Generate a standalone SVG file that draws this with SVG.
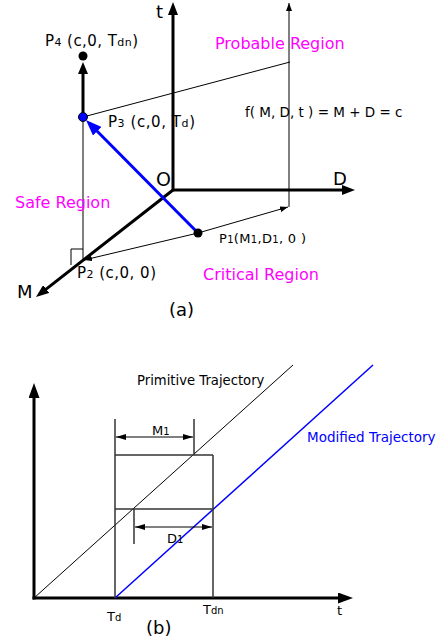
<svg xmlns="http://www.w3.org/2000/svg" width="442" height="644" viewBox="0 0 442 644">
<defs>
<style>
text{font-family:"DejaVu Sans","Liberation Sans",sans-serif;fill:#000}
.mag{fill:#FF00FF;font-size:16px}
.lbl{font-size:15px}
.sub{font-size:11px}
.ax{font-size:18px}
.thin{stroke:#000;stroke-width:1;fill:none}
.thick{stroke:#000;stroke-width:3;fill:none}
.dim{stroke:#333;stroke-width:1.5;fill:none}
</style>
<marker id="ah" markerUnits="userSpaceOnUse" markerWidth="13" markerHeight="10" refX="5" refY="5" orient="auto"><path d="M0,0 L13,5 L0,10 z" fill="#000"/></marker>
<marker id="ah2" markerUnits="userSpaceOnUse" markerWidth="15" markerHeight="11" refX="5" refY="5.5" orient="auto"><path d="M0,0 L15,5.5 L0,11 z" fill="#000"/></marker>
<marker id="kh" markerUnits="userSpaceOnUse" markerWidth="12" markerHeight="10" refX="3" refY="5" orient="auto"><path d="M0,0 L12,5 L0,10 z" fill="#000"/></marker>
<marker id="bh" markerUnits="userSpaceOnUse" markerWidth="16" markerHeight="12" refX="6" refY="6" orient="auto"><path d="M0,0 L16,6 L0,12 z" fill="#0000FF"/></marker>
<marker id="sh" markerUnits="userSpaceOnUse" markerWidth="8" markerHeight="6" refX="8" refY="3" orient="auto"><path d="M0,0 L8,3 L0,6 z" fill="#000"/></marker>
<marker id="dh" markerUnits="userSpaceOnUse" markerWidth="10" markerHeight="6" refX="10" refY="3" orient="auto-start-reverse"><path d="M0,0 L10,3 L0,6 z" fill="#000"/></marker>
</defs>
<rect width="442" height="644" fill="#fff"/>

<!-- (a) -->
<g id="connectors-a">
<line class="thin" x1="289" y1="207" x2="289" y2="3" marker-end="url(#sh)"/>
<line class="thin" x1="198" y1="233" x2="288" y2="207" marker-end="url(#sh)"/>
<line class="thin" x1="83" y1="117" x2="290" y2="62"/>
<line class="thin" x1="83" y1="117" x2="83" y2="260"/>
<polyline class="thin" points="83,249 71,249 71,265"/>
<line class="thin" x1="198" y1="233" x2="84" y2="260" marker-end="url(#sh)"/>
<line class="thick" x1="173" y1="190" x2="173" y2="10" marker-end="url(#ah)"/>
<line class="thick" x1="173" y1="190" x2="347" y2="190" marker-end="url(#ah)"/>
<line class="thick" x1="173" y1="190" x2="42.3" y2="292.1" marker-end="url(#ah)"/>
<line stroke="#0000FF" stroke-width="3" x1="198" y1="233" x2="93" y2="127" marker-end="url(#bh)"/>
<line class="thick" x1="83" y1="117" x2="83" y2="71" marker-end="url(#kh)"/>
</g>
<g id="axis-t"><text class="ax" x="156" y="18">t</text></g>
<g id="axis-D"><text class="ax" x="333" y="185">D</text></g>
<g id="axis-M"><text class="ax" x="17" y="298">M</text></g>
<g id="origin"><text class="ax" x="156" y="186" style="font-size:19px">O</text></g>
<g id="P4"><circle cx="83" cy="56" r="4.5" fill="#000"/><text class="lbl" x="45" y="46" textLength="93">P<tspan class="sub">4</tspan> (c,0, T<tspan class="sub">dn</tspan>)</text></g>
<g id="P3"><circle cx="83" cy="117" r="4.5" fill="#0000FF" stroke="#000" stroke-width="1"/><text class="lbl" x="108" y="127" textLength="87">P<tspan class="sub">3</tspan> (c,0, T<tspan class="sub">d</tspan>)</text></g>
<g id="P2"><text class="lbl" x="77" y="278" textLength="79">P<tspan class="sub">2</tspan> (c,0, 0)</text></g>
<g id="P1"><circle cx="198" cy="233" r="4.5" fill="#000"/><text style="font-size:13px" x="219" y="243" textLength="87">P<tspan style="font-size:10px">1</tspan>(M<tspan style="font-size:10px">1</tspan>,D<tspan style="font-size:10px">1</tspan>, 0 )</text></g>
<g id="probable"><text class="mag" x="215" y="49">Probable Region</text></g>
<g id="safe"><text class="mag" x="15" y="208">Safe Region</text></g>
<g id="critical"><text class="mag" x="203" y="280">Critical Region</text></g>
<g id="equation"><text x="245" y="117" style="font-size:13.5px">f( M, D, t ) = M + D = c</text></g>
<g id="label-a"><text x="169" y="316" style="font-size:18px">(a)</text></g>

<!-- (b) -->
<g id="connectors-b">
<line class="thick" x1="34" y1="599.5" x2="34" y2="393" marker-end="url(#ah2)"/>
<line class="thick" x1="32.5" y1="598" x2="343" y2="598" marker-end="url(#ah2)"/>
<line class="thin" x1="34" y1="598" x2="293" y2="365"/>
<line stroke="#0000FF" stroke-width="1.5" x1="115" y1="598" x2="373" y2="365"/>
<line class="dim" x1="115" y1="419" x2="115" y2="598"/>
<line class="dim" x1="194" y1="419" x2="194" y2="455"/>
<line class="dim" x1="115" y1="455" x2="213" y2="455"/>
<line class="dim" x1="213" y1="455" x2="213" y2="598"/>
<line class="dim" x1="115" y1="509" x2="213" y2="509"/>
<line class="dim" x1="134" y1="509" x2="134" y2="544"/>
<line class="thin" x1="116" y1="437" x2="193" y2="437" marker-start="url(#dh)" marker-end="url(#dh)"/>
<line class="thin" x1="135" y1="527" x2="212" y2="527" marker-start="url(#dh)" marker-end="url(#dh)"/>
</g>
<g id="primitive"><text x="137" y="385" style="font-size:13.2px">Primitive Trajectory</text></g>
<g id="modified"><text x="307" y="442" style="font-size:13.5px;fill:#0000FF">Modified Trajectory</text></g>
<g id="M1"><text x="152" y="435" style="font-size:13px">M<tspan style="font-size:10px">1</tspan></text></g>
<g id="D1"><text x="167" y="543" style="font-size:13px">D<tspan style="font-size:10px">1</tspan></text></g>
<g id="Td"><text x="107" y="621" style="font-size:13px">T<tspan class="sub" style="font-size:10px">d</tspan></text></g>
<g id="Tdn"><text x="203" y="614" style="font-size:13px">T<tspan style="font-size:10px">dn</tspan></text></g>
<g id="axis-t-b"><text x="337" y="615" style="font-size:13px">t</text></g>
<g id="label-b"><text x="146" y="634" style="font-size:18px">(b)</text></g>
</svg>
